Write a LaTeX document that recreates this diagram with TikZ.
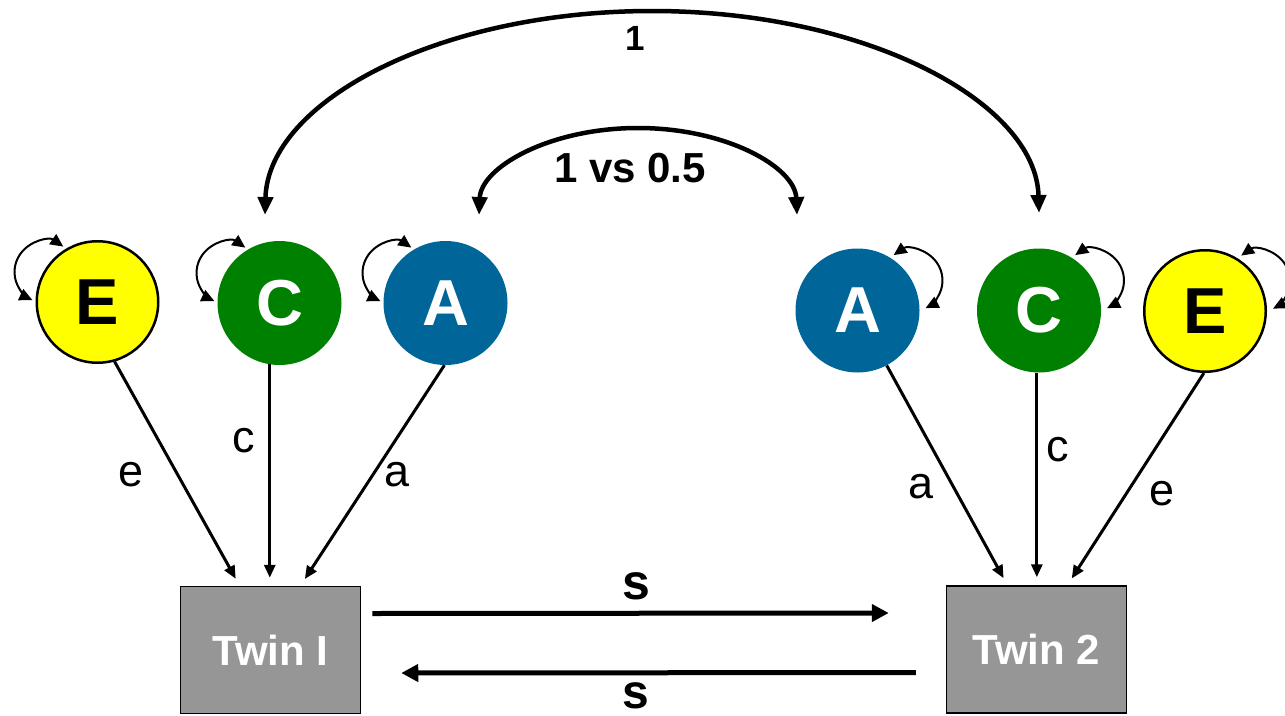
\documentclass[tikz,border=0pt]{standalone}
\usepackage{fontspec}
\setmainfont{Liberation Sans}
\usetikzlibrary{arrows.meta,calc}
\definecolor{cyel}{RGB}{255,255,0}
\definecolor{cgrn}{RGB}{0,128,0}
\definecolor{cblu}{RGB}{0,102,153}
\definecolor{cbox}{RGB}{150,150,150}
\begin{document}
\begin{tikzpicture}[x=1pt,y=-1pt,
 lat/.style={circle, minimum size=124pt, inner sep=0pt, font=\fontsize{65}{70}\selectfont\bfseries},
 latE/.style={lat, fill=cyel, draw=black, line width=2.5pt, minimum size=121.5pt, text=black},
 latC/.style={lat, fill=cgrn, text=white},
 latA/.style={lat, fill=cblu, text=white},
 twin/.style={rectangle, fill=cbox, draw=black, line width=1.5pt, minimum width=180pt, minimum height=127pt, inner sep=0pt, text=white, font=\fontsize{42}{46}\selectfont\bfseries},
 pathline/.style={line width=3pt, -{Triangle[length=13pt,width=11pt]}, shorten >=8pt},
 pathlab/.style={font=\fontsize{45}{50}\selectfont, inner sep=0pt},
 selfloop/.style={line width=2pt, {Triangle[length=13pt,width=12pt]}-{Triangle[length=13pt,width=12pt]}},
 bigarc/.style={line width=4.5pt, {Triangle[length=18pt,width=15pt]}-{Triangle[length=18pt,width=15pt]}},
 harrow/.style={line width=5pt, -{Triangle[length=17pt,width=17pt]}},
 boldlab/.style={font=\bfseries, inner sep=0pt}
]
\useasboundingbox[fill=white] (0,0) rectangle (1285,715);

% latent variables
\node[latE] (eL) at (97.5,302) {E};
\node[latC] (cL) at (279.5,303) {C};
\node[latA] (aL) at (445.5,303) {A};
\node[latA] (aR) at (857.5,310.5) {A};
\node[latC] (cR) at (1039,310.5) {C};
\node[latE] (eR) at (1205,311) {E};

% observed
\node[twin] (t1) at (270.5,650) {Twin I};
\node[twin] (t2) at (1036.5,649.5) {Twin 2};

% self loops (variances)
\draw[selfloop] ([shift={(-34.2,-55.4)}]eL.center) arc[start angle=-55, end angle=-245, radius=31];
\draw[selfloop] ([shift={(-34.2,-55.4)}]cL.center) arc[start angle=-55, end angle=-245, radius=31];
\draw[selfloop] ([shift={(-34.2,-55.4)}]aL.center) arc[start angle=-55, end angle=-245, radius=31];
\draw[selfloop] ([shift={(36.2,-55.4)}]aR.center) arc[start angle=-125, end angle=63, radius=31];
\draw[selfloop] ([shift={(36.2,-55.4)}]cR.center) arc[start angle=-125, end angle=63, radius=31];
\draw[selfloop] ([shift={(36.2,-55.4)}]eR.center) arc[start angle=-125, end angle=63, radius=31];

% correlations
\coordinate (bL) at (265,215);
\coordinate (bR) at (1039,213);
\coordinate (sL) at (479,215);
\coordinate (sR) at (797,215);
\draw[bigarc] (bL) .. controls (268,102) and (438,11) .. (652,11)
  .. controls (866,11) and (1036,102) .. (bR);
\draw[bigarc] (sL) .. controls (481,167) and (550,128) .. (638,128)
  .. controls (726,128) and (795,167) .. (sR);
\node[boldlab, font=\fontsize{35}{40}\selectfont\bfseries] (one) at (635,38) {1};
\node[boldlab, font=\fontsize{42}{46}\selectfont\bfseries] (onehalf) at (630,168) {1 vs 0.5};

% paths
\draw[pathline] (eL.-74) -- ($(t1.north west)!0.33!(t1.north east)$);
\draw[pathline] (cL.-99) -- (cL.-99 |- t1.north);
\draw[pathline] (aL.-91) -- ($(t1.north west)!0.665!(t1.north east)$);
\draw[pathline] (aR.-62) -- ($(t2.north west)!0.34!(t2.north east)$);
\draw[pathline] (cR.-92) -- (cR.-92 |- t2.north);
\draw[pathline] (eR.-91) -- ($(t2.north west)!0.67!(t2.north east)$);

\node[pathlab] (le) at (131,475) {e};
\node[pathlab] (lc) at (244,441) {c};
\node[pathlab] (la) at (397,475) {a};
\node[pathlab] (ra) at (921,487) {a};
\node[pathlab] (rc) at (1058,450) {c};
\node[pathlab] (re) at (1162,494) {e};

% sibling interaction
\draw[harrow] ([xshift=11pt,yshift=36.5pt]t1.east) -- ([xshift=-57pt,yshift=36.5pt]t2.west);
\draw[harrow] ([xshift=-30pt,yshift=-23pt]t2.west) -- ([xshift=40pt,yshift=-23pt]t1.east);
\node[boldlab, font=\fontsize{50}{55}\selectfont\bfseries] (s1) at (636,586.5) {s};
\node[boldlab, font=\fontsize{48}{53}\selectfont\bfseries] (s2) at (636,696) {s};
\end{tikzpicture}
\end{document}
